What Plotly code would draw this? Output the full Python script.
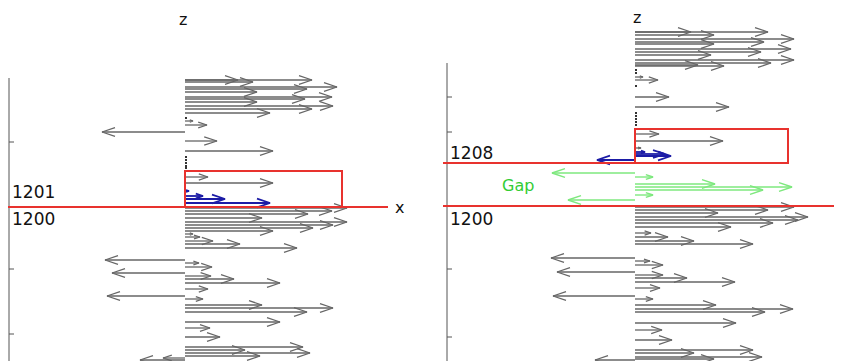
import plotly.graph_objects as go
from plotly.subplots import make_subplots

# ---------------- data (z level, x displacement) ----------------
# Left panel (layer boundary 1200/1201)
left_gray_z = [127, 127, 125, 120, 118, 115, 110, 108, 105, 101, 98, 94,
               86, 82, 75, 66, 56, 30, 24,
               -1, -4, -7, -11, -15, -18, -21, -24, -27, -30, -34, -37, -41,
               -53, -56, -60, -66, -69, -72, -76, -82, -89, -92, -98, -101, -105,
               -115, -121, -130, -140, -143, -146, -149, -153, -151]
left_gray_dx = [127, 53, 68, 152, 122, 72, 147, 120, 72, 148, 127, 85,
                8, 22, -83, 32, 88, 23, 88,
                162, 147, 123, 77, 162, 148, 128, 88, 8, 15, 28, 55, 112,
                -80, 14, 27, -73, 26, 49, 95, 23, -78, 18, 77, 148, 122,
                95, 25, 35, 118, 60, 125, 75, -45, -22]
left_blue_z = [16, 11, 8, 4]
left_blue_dx = [4, 18, 40, 85]
left_dots_z = [89, 50, 47, 44, 41, 39]

# Right panel (layer boundary 1200/1208 with gap)
right_gray_z = [175, 175, 172, 168, 165, 163, 158, 155, 152, 147, 144, 142, 141,
                130, 127, 110, 100, 73, 66, 59,
                0, -3, -6, -10, -13, -16, -20, -26, -30, -34, -37,
                -51, -54, -58, -65, -68, -71, -75, -81, -89, -92, -98, -102, -105,
                -116, -123, -133, -143, -146, -150, -152, -153]
right_gray_dx = [56, 133, 79, 159, 129, 79, 156, 126, 76, 159, 136, 63, 89,
                 8, 23, 34, 94, 24, 88, 6,
                 159, 133, 83, 173, 163, 138, 96, 16, 33, 59, 118,
                 -84, 15, 28, -78, 28, 52, 100, 25, -82, 18, 81, 158, 130,
                 101, 27, 37, 118, 59, 127, 79, -40]
right_blue_z = [55, 53, 51, 47]
right_blue_dx = [10, 30, 36, -38]
right_green_z = [34, 30, 23, 20, 17, 12, 7]
right_green_dx = [-83, 18, 80, 157, 128, 18, -67]
right_dots_z = [137, 134, 121, 94, 91, 88, 85, 82]

left_ticks_z = [65, -62, -127]
right_ticks_z = [110, 75, -62, -130]

GRAY = "#666666"
BLUE = "#1c1ca6"
GREEN = "#7ee87e"
RED = "#e8322e"
FONT = "DejaVu Sans"


def arrows(zs, dxs):
    xs, ys = [], []
    for z, dx in zip(zs, dxs):
        s = 1 if dx >= 0 else -1
        L = min(13.0, max(3.0, 0.4 * abs(dx)))
        h = 0.33 * L
        xs += [0, dx, None, dx - s * L, dx, dx - s * L, None]
        ys += [z, z, None, z + h, z, z - h, None]
    return xs, ys


fig = make_subplots(rows=1, cols=2, horizontal_spacing=0)

for col, groups, dots in [
    (1, [(left_gray_z, left_gray_dx, GRAY, 1.3), (left_blue_z, left_blue_dx, BLUE, 1.8)], left_dots_z),
    (2, [(right_gray_z, right_gray_dx, GRAY, 1.3), (right_green_z, right_green_dx, GREEN, 1.4),
         (right_blue_z, right_blue_dx, BLUE, 1.8)], right_dots_z),
]:
    for zs, dxs, color, w in groups:
        ax, ay = arrows(zs, dxs)
        fig.add_trace(go.Scatter(x=ax, y=ay, mode="lines",
                                 line=dict(color=color, width=w),
                                 hoverinfo="skip", showlegend=False), row=1, col=col)
    fig.add_trace(go.Scatter(x=[1] * len(dots), y=dots, mode="markers",
                             marker=dict(color="#333", size=2, symbol="square"),
                             hoverinfo="skip", showlegend=False), row=1, col=col)

shapes = []
# vertical axes
for xr, yr, xa, top, ticks in [("x", "y", -176, 129, left_ticks_z), ("x2", "y2", -188, 144, right_ticks_z)]:
    shapes.append(dict(type="line", xref=xr, yref=yr, x0=xa, x1=xa, y0=top, y1=-170,
                       line=dict(color="#555", width=1)))
    for t in ticks:
        shapes.append(dict(type="line", xref=xr, yref=yr, x0=xa, x1=xa + 5, y0=t, y1=t,
                           line=dict(color="#555", width=1)))
# red lines and boxes
shapes += [
    dict(type="line", xref="x", yref="y", x0=-180, x1=203, y0=0, y1=0, line=dict(color=RED, width=2)),
    dict(type="rect", xref="x", yref="y", x0=0, x1=157, y0=0, y1=36, line=dict(color=RED, width=2)),
    dict(type="line", xref="x2", yref="y2", x0=-192, x1=200, y0=1, y1=1, line=dict(color=RED, width=2)),
    dict(type="line", xref="x2", yref="y2", x0=-192, x1=0, y0=44, y1=44, line=dict(color=RED, width=2)),
    dict(type="rect", xref="x2", yref="y2", x0=0, x1=153, y0=44, y1=78, line=dict(color=RED, width=2)),
]

ann = []
def txt(xr, yr, x, y, t, size=16, color="#111", xanchor="left"):
    ann.append(dict(xref=xr, yref=yr, x=x, y=y, text=t, showarrow=False, xanchor=xanchor,
                    yanchor="middle", font=dict(family=FONT, size=size, color=color)))

txt("x", "y", -2, 188, "z", 16, xanchor="center")
txt("x", "y", -175, 15, "1201", 17)
txt("x", "y", -175, -12, "1200", 17)
txt("x", "y", 208, 0, "x", 16)
txt("x2", "y2", 2, 190, "z", 16, xanchor="center")
txt("x2", "y2", -187, 54, "1208", 17)
txt("x2", "y2", -135, 22, "Gap", 16, color="#33cc33")
txt("x2", "y2", -187, -12, "1200", 17)
txt("x2", "y2", 201, 0, "x", 16)

# the page adds an 8 px offset, so ranges are shifted to keep the layout in place
fig.update_layout(width=842, height=361, margin=dict(l=0, r=0, t=0, b=0),
                  paper_bgcolor="white", plot_bgcolor="white",
                  shapes=shapes, annotations=ann)
fig.update_xaxes(visible=False)
fig.update_xaxes(range=[-177, 244], row=1, col=1)
fig.update_xaxes(range=[-206, 215], row=1, col=2)
fig.update_yaxes(visible=False, range=[-162, 199])

fig.write_html("out.html")
